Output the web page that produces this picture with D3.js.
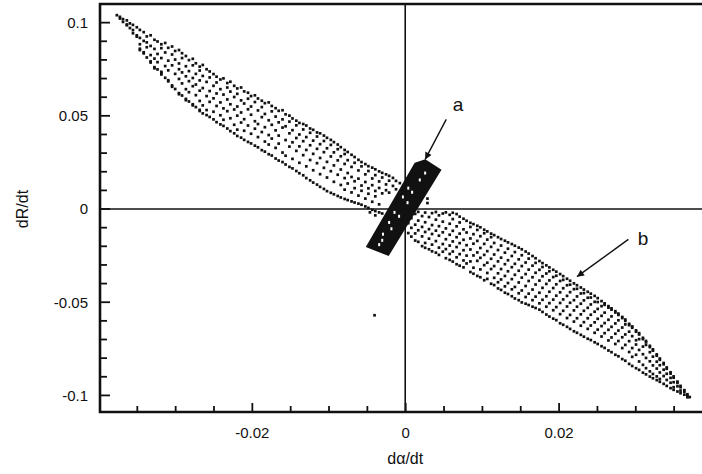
<!DOCTYPE html>
<html>
<head>
  <meta charset="utf-8">
  <title>dR/dt vs dα/dt</title>
  <script src="https://d3js.org/d3.v7.min.js"></script>
  <style>
    body { margin: 0; background: #fff; }
    text { font-family: "Liberation Sans", Arial, sans-serif; fill: #111; }
    .axis text { font-size: 15px; }
    .axis line { stroke: #111; stroke-width: 1.8; }
    .axis path { display: none; }
    .tick-in { stroke: #111; stroke-width: 1.8; }
  </style>
</head>
<body>
  <svg width="702" height="474"></svg>

  <script>
    // values in units of 1e-3 : [dα/dt, [dR/dt ...]] read column by column
    var unit = 1e-3;

    // band b, upper-left half
    var bandUpper = [
      [-37.6, [104.0]],
      [-37.2, [103.1, 102.2]],
      [-36.8, [101.9, 100.4]],
      [-36.3, [101.2, 99.0, 98.6]],
      [-35.9, [99.6, 97.1]],
      [-35.5, [98.8, 96.0, 94.3]],
      [-35.0, [97.5, 93.2, 92.5]],
      [-34.6, [96.1, 91.8, 88.4, 86.0, 85.3]],
      [-34.1, [94.9, 90.2, 84.1, 83.5]],
      [-33.7, [92.6, 89.4, 86.8, 81.3]],
      [-33.2, [93.2, 87.5, 82.6, 79.2, 78.6]],
      [-32.7, [90.8, 85.9, 80.7, 76.1, 75.5]],
      [-32.3, [89.9, 83.2, 78.8, 74.9]],
      [-31.8, [88.4, 86.3, 81.0, 73.6, 72.9, 72.2]],
      [-31.3, [89.1, 84.0, 76.7, 70.4]],
      [-30.9, [86.5, 79.6, 74.4, 69.1, 68.5]],
      [-30.4, [87.2, 82.9, 77.1, 66.3, 65.6]],
      [-30.0, [84.8, 80.2, 72.5, 64.4]],
      [-29.5, [85.3, 78.1, 75.0, 69.8, 62.2, 61.6]],
      [-29.1, [83.6, 81.0, 73.3, 67.4, 60.9]],
      [-28.6, [82.1, 76.6, 71.2, 64.3, 59.1, 58.4]],
      [-28.2, [79.9, 74.0, 68.6, 62.7, 57.7]],
      [-27.7, [80.6, 77.1, 70.3, 65.9, 56.2, 55.6]],
      [-27.3, [78.2, 72.5, 66.8, 61.1, 54.7]],
      [-26.8, [76.4, 74.3, 69.0, 63.5, 58.0, 53.2, 52.6]],
      [-26.4, [77.3, 71.4, 64.9, 55.6, 51.3]],
      [-25.9, [75.0, 68.2, 60.6, 53.1, 50.4]],
      [-25.5, [73.8, 70.6, 63.3, 57.5, 49.4]],
      [-25.0, [72.4, 66.1, 59.4, 52.2, 48.1]],
      [-24.6, [71.0, 67.9, 62.0, 55.3, 46.6]],
      [-24.1, [69.5, 64.3, 57.2, 50.3, 45.4]],
      [-23.7, [70.1, 61.4, 54.0, 47.9, 44.6]],
      [-23.2, [67.6, 65.2, 58.8, 52.5, 43.2]],
      [-22.8, [68.3, 63.0, 56.2, 48.7, 41.8]],
      [-22.3, [66.1, 60.1, 53.4, 45.2, 40.6]],
      [-21.9, [64.7, 61.8, 55.0, 50.1, 42.6, 39.2]],
      [-21.4, [65.2, 58.3, 51.8, 46.4, 38.3]],
      [-21.0, [63.1, 56.6, 48.2, 42.0, 37.1]],
      [-20.5, [62.4, 59.2, 53.5, 44.8, 36.0]],
      [-20.1, [60.6, 55.0, 50.6, 40.4, 35.2]],
      [-19.6, [61.0, 57.4, 47.1, 43.1, 34.0]],
      [-19.2, [59.3, 52.9, 45.6, 38.6, 33.1]],
      [-18.7, [58.1, 54.7, 49.3, 41.3, 31.6]],
      [-18.3, [56.8, 51.0, 43.9, 36.2, 30.8]],
      [-17.8, [57.2, 47.6, 39.7, 34.6, 29.4]],
      [-17.4, [55.3, 52.4, 45.2, 37.8, 28.7]],
      [-16.9, [54.1, 49.6, 42.2, 32.8, 27.1]],
      [-16.5, [52.7, 46.5, 39.4, 35.1, 26.0]],
      [-16.0, [53.0, 48.1, 43.7, 30.3, 25.2]],
      [-15.6, [50.8, 44.4, 37.0, 28.6, 23.9]],
      [-15.1, [50.1, 46.9, 40.6, 33.5, 22.6]],
      [-14.7, [48.6, 42.3, 35.8, 26.9, 21.8]],
      [-14.2, [47.4, 44.9, 38.1, 31.2, 20.4]],
      [-13.8, [46.2, 40.0, 33.6, 24.8, 19.2]],
      [-13.3, [45.6, 42.7, 36.4, 28.9, 18.1]],
      [-12.9, [44.8, 38.6, 31.7, 22.9, 16.6]],
      [-12.4, [43.2, 40.9, 34.2, 26.3, 15.4]],
      [-12.0, [42.5, 36.7, 29.6, 20.8, 14.2]],
      [-11.5, [41.1, 38.9, 32.3, 24.6, 13.1]],
      [-11.1, [40.6, 34.8, 27.4, 18.7, 11.9]],
      [-10.6, [39.4, 36.5, 30.5, 22.1, 10.8]],
      [-10.2, [38.2, 32.6, 25.3, 16.9, 9.6]],
      [-9.7, [37.1, 34.4, 28.2, 20.3, 8.7]],
      [-9.3, [35.9, 30.4, 23.4, 14.6, 7.9]],
      [-8.8, [34.6, 32.1, 26.1, 18.4, 7.0]],
      [-8.4, [33.2, 28.3, 21.2, 12.9, 6.2]],
      [-7.9, [31.7, 29.5, 24.2, 16.6, 10.4, 5.4]],
      [-7.5, [30.6, 26.2, 19.3, 13.7, 4.8]],
      [-7.0, [29.1, 22.6, 17.2, 8.9, 4.1]],
      [-6.6, [27.9, 24.8, 14.9, 11.2, 3.5]],
      [-6.1, [26.4, 20.7, 16.3, 7.2, 2.9]],
      [-5.7, [25.2, 22.9, 12.6, 9.8, 2.3]],
      [-5.2, [24.1, 18.6, 14.5, 5.6, 1.4]],
      [-4.8, [23.0, 20.4, 11.1, 8.2, 0.6]],
      [-4.3, [22.2, 16.4, 12.8, 3.9, -0.4]],
      [-3.9, [21.3, 18.2, 9.7, 6.8, -1.1]],
      [-3.4, [20.2, 14.8, 11.3, 2.5, -1.8]],
      [-3.0, [19.4, 16.9, 8.4, -2.4]],
      [-2.5, [18.6, 13.2, 10.1]],
      [-2.1, [17.8, 15.2, 8.8]],
      [-1.6, [16.7, 12.4]],
      [-1.2, [15.1, 10.6]],
      [-0.7, [13.9]],
      [-4.6, [-1.8]],
      [-3.9, [-3.4]],
      [1.2, [4.8]],
      [2.9, [5.6, 3.2]],
      [-4.0, [-57.0]]
    ];

    // band b, lower-right half
    var bandLower = [
      [0.4, [-2.0, -7.6, -12.9]],
      [0.8, [-1.3, -4.9, -10.1, -14.8]],
      [1.3, [-2.6, -8.4, -13.1, -16.9]],
      [1.7, [-1.5, -6.2, -11.4, -17.6]],
      [2.2, [-3.8, -9.6, -14.7, -19.9]],
      [2.6, [-1.9, -7.1, -12.3, -18.2, -20.8]],
      [3.1, [-4.3, -10.8, -15.9, -21.6]],
      [3.5, [-2.2, -8.6, -13.4, -19.1, -22.7]],
      [4.0, [-1.6, -5.7, -11.6, -17.2, -23.4]],
      [4.4, [-3.4, -9.2, -14.3, -20.7, -24.6]],
      [4.9, [-2.4, -6.8, -12.5, -18.8, -22.9]],
      [5.3, [-1.8, -10.4, -16.2, -21.5, -26.4]],
      [5.8, [-3.1, -7.9, -13.8, -19.6, -24.1, -27.3]],
      [6.2, [-2.0, -5.4, -11.7, -17.4, -22.8, -28.2]],
      [6.7, [-2.7, -9.3, -15.1, -20.4, -25.9, -29.6]],
      [7.1, [-4.1, -7.2, -13.2, -18.3, -24.2, -30.4]],
      [7.6, [-5.2, -10.9, -16.5, -22.1, -27.6, -31.3]],
      [8.0, [-6.3, -12.6, -19.4, -25.0, -29.2]],
      [8.5, [-7.4, -9.6, -15.8, -21.7, -28.1, -33.8]],
      [8.9, [-8.1, -13.5, -18.6, -24.9, -31.5, -34.7]],
      [9.4, [-9.0, -11.2, -17.1, -23.3, -27.8, -35.9]],
      [9.8, [-9.8, -14.6, -20.9, -26.2, -32.4, -36.6]],
      [10.3, [-11.1, -13.0, -18.7, -24.6, -30.1, -38.2]],
      [10.7, [-12.0, -16.4, -22.6, -28.8, -34.3, -37.5]],
      [11.2, [-13.2, -15.1, -20.3, -26.7, -32.2, -40.1]],
      [11.6, [-14.0, -18.2, -24.4, -30.6, -36.9, -40.8]],
      [12.1, [-15.1, -22.0, -28.1, -34.5, -39.3, -42.6]],
      [12.5, [-16.1, -19.6, -26.1, -32.2, -37.8, -43.4]],
      [13.0, [-17.0, -23.4, -29.6, -35.9, -41.5, -44.9]],
      [13.4, [-17.9, -21.3, -27.5, -33.4, -39.7, -45.6]],
      [13.9, [-18.8, -25.2, -31.2, -37.6, -43.1, -46.8]],
      [14.3, [-19.7, -23.1, -29.4, -35.3, -41.8, -48.0]],
      [14.8, [-20.7, -27.0, -33.1, -39.4, -45.2, -48.9]],
      [15.2, [-21.6, -24.8, -30.6, -36.8, -43.7, -50.1]],
      [15.7, [-22.8, -28.7, -34.9, -41.3, -47.2, -50.8]],
      [16.1, [-23.9, -26.6, -32.5, -38.6, -45.4, -51.5]],
      [16.6, [-25.2, -30.4, -36.6, -43.2, -48.9, -52.4]],
      [17.0, [-26.4, -28.9, -34.2, -40.5, -47.0, -53.1]],
      [17.5, [-27.9, -32.6, -38.4, -44.9, -50.6, -54.0]],
      [17.9, [-29.0, -31.1, -36.1, -42.3, -48.7, -55.2]],
      [18.4, [-30.2, -34.6, -40.2, -46.8, -52.4, -56.6]],
      [18.8, [-31.3, -33.4, -38.3, -44.4, -50.5, -57.7]],
      [19.3, [-32.6, -36.5, -42.4, -48.6, -54.3, -58.8]],
      [19.7, [-33.6, -35.8, -40.4, -46.5, -52.6, -59.6]],
      [20.2, [-34.9, -38.6, -44.7, -50.4, -56.4, -61.3]],
      [20.6, [-36.0, -38.0, -42.5, -48.5, -54.6, -62.1]],
      [21.1, [-37.4, -40.9, -46.6, -52.3, -58.5, -63.2]],
      [21.5, [-38.5, -40.6, -44.6, -50.3, -56.8, -64.3]],
      [22.0, [-39.9, -43.0, -48.9, -54.4, -60.4, -65.6]],
      [22.4, [-40.9, -42.8, -46.9, -52.4, -58.6, -66.4]],
      [22.9, [-42.1, -45.3, -50.8, -56.5, -62.6, -67.5]],
      [23.3, [-43.2, -45.1, -49.0, -54.6, -60.7, -68.5]],
      [23.8, [-44.4, -47.6, -53.0, -58.6, -64.3, -69.6]],
      [24.2, [-45.4, -47.5, -51.2, -56.7, -62.5, -70.3]],
      [24.7, [-46.6, -49.8, -55.1, -60.8, -66.4, -71.5]],
      [25.1, [-47.8, -49.9, -53.6, -58.9, -64.7, -72.4]],
      [25.6, [-49.4, -52.1, -57.3, -62.8, -68.4, -73.6]],
      [26.0, [-50.6, -51.4, -55.6, -61.2, -66.6, -74.5]],
      [26.5, [-52.1, -52.9, -59.4, -64.8, -70.5, -75.9]],
      [26.9, [-53.3, -54.0, -57.6, -63.2, -68.9, -76.8]],
      [27.4, [-54.8, -55.5, -61.4, -66.9, -72.4, -78.2]],
      [27.8, [-56.1, -56.8, -59.7, -65.2, -70.8, -79.0]],
      [28.3, [-57.9, -58.5, -63.6, -68.8, -74.6, -80.5]],
      [28.7, [-59.3, -60.0, -61.9, -67.3, -72.9, -81.4]],
      [29.2, [-61.6, -62.3, -65.8, -70.9, -76.7, -83.1]],
      [29.6, [-63.0, -63.7, -68.2, -74.6, -79.3, -84.2]],
      [30.1, [-65.1, -65.8, -70.4, -72.7, -78.2, -85.4]],
      [30.5, [-66.6, -67.3, -69.8, -75.6, -81.8, -86.3]],
      [31.0, [-69.1, -69.8, -73.8, -77.9, -83.6, -87.8]],
      [31.4, [-70.8, -71.5, -72.9, -79.9, -85.4, -88.7]],
      [31.9, [-73.4, -74.1, -76.8, -81.7, -87.1, -89.9]],
      [32.3, [-75.3, -76.0, -79.2, -83.9, -88.5, -90.8]],
      [32.8, [-78.0, -78.7, -81.9, -85.6, -89.8, -91.8]],
      [33.2, [-80.2, -80.9, -83.8, -87.7, -91.2, -92.7]],
      [33.7, [-82.6, -83.3, -86.2, -89.6, -93.8]],
      [34.1, [-85.0, -85.7, -88.4, -91.7, -94.9]],
      [34.6, [-87.6, -88.3, -90.6, -93.2, -96.1]],
      [35.0, [-89.8, -90.5, -92.9, -95.6, -97.0]],
      [35.5, [-92.6, -93.3, -95.1, -97.9]],
      [35.9, [-94.9, -95.6, -97.4, -98.8]],
      [36.4, [-97.2, -98.0, -99.6]],
      [36.8, [-99.4, -100.2, -101.0]],
      [37.1, [-100.9]]
    ];

    // cluster a : outline of the solid black band, and the white gaps inside it
    var clusterA = [[1.3, 24.5], [2.6, 26.2], [4.6, 20.9], [-2.2, -24.7], [-5.0, -20.2]];
    var gapsA = [[1.9, 15.6], [0.4, 11.2], [2.6, 19.3], [-0.3, 6.5], [0.3, 3.4], [-1.4, -1.8],
                 [-0.8, -3.9], [-2.1, -7.2], [-1.8, -10.6], [-2.9, -13.5], [-3.0, -16.8],
                 [-3.4, -19.1], [0.9, 9.0]];

    var xMajor = [-0.02, 0, 0.02];
    var xMinor = [-0.035, -0.03, -0.025, -0.015, -0.01, -0.005, 0.005, 0.01, 0.015, 0.025, 0.03, 0.035];
    var yMajor = [-0.1, -0.05, 0, 0.05, 0.1];
    var yMinor = [-0.09, -0.08, -0.07, -0.06, -0.04, -0.03, -0.02, -0.01,
                  0.01, 0.02, 0.03, 0.04, 0.06, 0.07, 0.08, 0.09];

    var padL = 100, padR = 702, padT = 4, padB = 412;

    var x = d3.scaleLinear().domain([-0.0398, 0.0387]).range([padL, padR]);
    var y = d3.scaleLinear().domain([-0.1089, 0.110]).range([padB, padT]);

    var svg = d3.select("svg");
    svg.append("rect").attr("width", 702).attr("height", 474).attr("fill", "#fff");

    function fmt(d) { return d === 0 ? "0" : String(d); }

    // zero lines
    svg.append("line").attr("x1", padL).attr("x2", padR).attr("y1", y(0)).attr("y2", y(0))
      .attr("stroke", "#111").attr("stroke-width", 1.6);
    svg.append("line").attr("x1", x(0)).attr("x2", x(0)).attr("y1", padT).attr("y2", padB)
      .attr("stroke", "#111").attr("stroke-width", 1.6);

    // frame (right edge lies just outside the picture)
    svg.append("path")
      .attr("d", "M" + (padR + 2) + "," + padT + "H" + padL + "V" + padB + "H" + (padR + 2))
      .attr("fill", "none").attr("stroke", "#111").attr("stroke-width", 2.6);

    // x axis: inward ticks and labels
    svg.append("g").attr("class", "axis")
      .attr("transform", "translate(0," + padB + ")")
      .call(d3.axisBottom(x).tickValues(xMinor).tickSize(-6).tickFormat(""));
    svg.append("g").attr("class", "axis")
      .attr("transform", "translate(0," + padB + ")")
      .call(d3.axisBottom(x).tickValues(xMajor).tickSize(-9).tickPadding(15).tickFormat(fmt));

    // y axis: labels from the axis, inward ticks drawn as plain lines
    svg.append("g").attr("class", "axis")
      .attr("transform", "translate(" + padL + ",0)")
      .call(d3.axisLeft(y).tickValues(yMajor).tickSize(0).tickPadding(12).tickFormat(fmt));

    svg.append("g").selectAll("line")
      .data(yMinor.map(function(v) { return [v, 7]; }).concat(yMajor.map(function(v) { return [v, 10]; })))
      .enter()
      .append("line")
      .attr("class", "tick-in")
      .attr("x1", padL)
      .attr("x2", function(d) { return padL + d[1]; })
      .attr("y1", function(d) { return y(d[0]); })
      .attr("y2", function(d) { return y(d[0]); });

    // band b dots
    var dots = [];
    bandUpper.concat(bandLower).forEach(function(c) {
      c[1].forEach(function(v) { dots.push([c[0] * unit, v * unit]); });
    });

    svg.append("g").selectAll("rect")
      .data(dots)
      .enter()
      .append("rect")
      .attr("x", function(d) { return x(d[0]) - 1.35; })
      .attr("y", function(d) { return y(d[1]) - 1.35; })
      .attr("width", 2.7)
      .attr("height", 2.7)
      .attr("fill", "#111");

    // cluster a
    svg.append("path")
      .datum(clusterA)
      .attr("d", d3.line()
        .x(function(d) { return x(d[0] * unit); })
        .y(function(d) { return y(d[1] * unit); })
        .curve(d3.curveLinearClosed))
      .attr("fill", "#111")
      .attr("stroke", "#111")
      .attr("stroke-width", 1.5);

    svg.append("g").selectAll("rect")
      .data(gapsA)
      .enter()
      .append("rect")
      .attr("x", function(d) { return x(d[0] * unit) - 1; })
      .attr("y", function(d) { return y(d[1] * unit) - 1.5; })
      .attr("width", 2)
      .attr("height", 3)
      .attr("fill", "#fff");

    // annotations
    svg.append("defs").append("marker")
      .attr("id", "head")
      .attr("viewBox", "0 0 10 10")
      .attr("refX", 10).attr("refY", 5)
      .attr("markerWidth", 9).attr("markerHeight", 7)
      .attr("markerUnits", "userSpaceOnUse")
      .attr("orient", "auto")
      .append("path").attr("d", "M0,0L10,5L0,10Z").attr("fill", "#111");

    var notes = [
      { label: "a", from: [5.35, 48.1], to: [2.6, 26.6], at: [6.9, 52.7] },
      { label: "b", from: [29.1, -16.3], to: [22.4, -36.3], at: [31.0, -19.3] }
    ];

    notes.forEach(function(n) {
      svg.append("line")
        .attr("x1", x(n.from[0] * unit)).attr("y1", y(n.from[1] * unit))
        .attr("x2", x(n.to[0] * unit)).attr("y2", y(n.to[1] * unit))
        .attr("stroke", "#111").attr("stroke-width", 1.4)
        .attr("marker-end", "url(#head)");
      svg.append("text")
        .attr("x", x(n.at[0] * unit)).attr("y", y(n.at[1] * unit))
        .attr("text-anchor", "middle")
        .style("font-size", "19px")
        .text(n.label);
    });

    // axis titles
    svg.append("text")
      .attr("x", x(0)).attr("y", 464)
      .attr("text-anchor", "middle")
      .style("font-size", "16px")
      .text("dα/dt");
    svg.append("text")
      .attr("transform", "translate(28," + y(0) + ") rotate(-90)")
      .attr("text-anchor", "middle")
      .style("font-size", "16px")
      .text("dR/dt");
  </script>
</body>
</html>
